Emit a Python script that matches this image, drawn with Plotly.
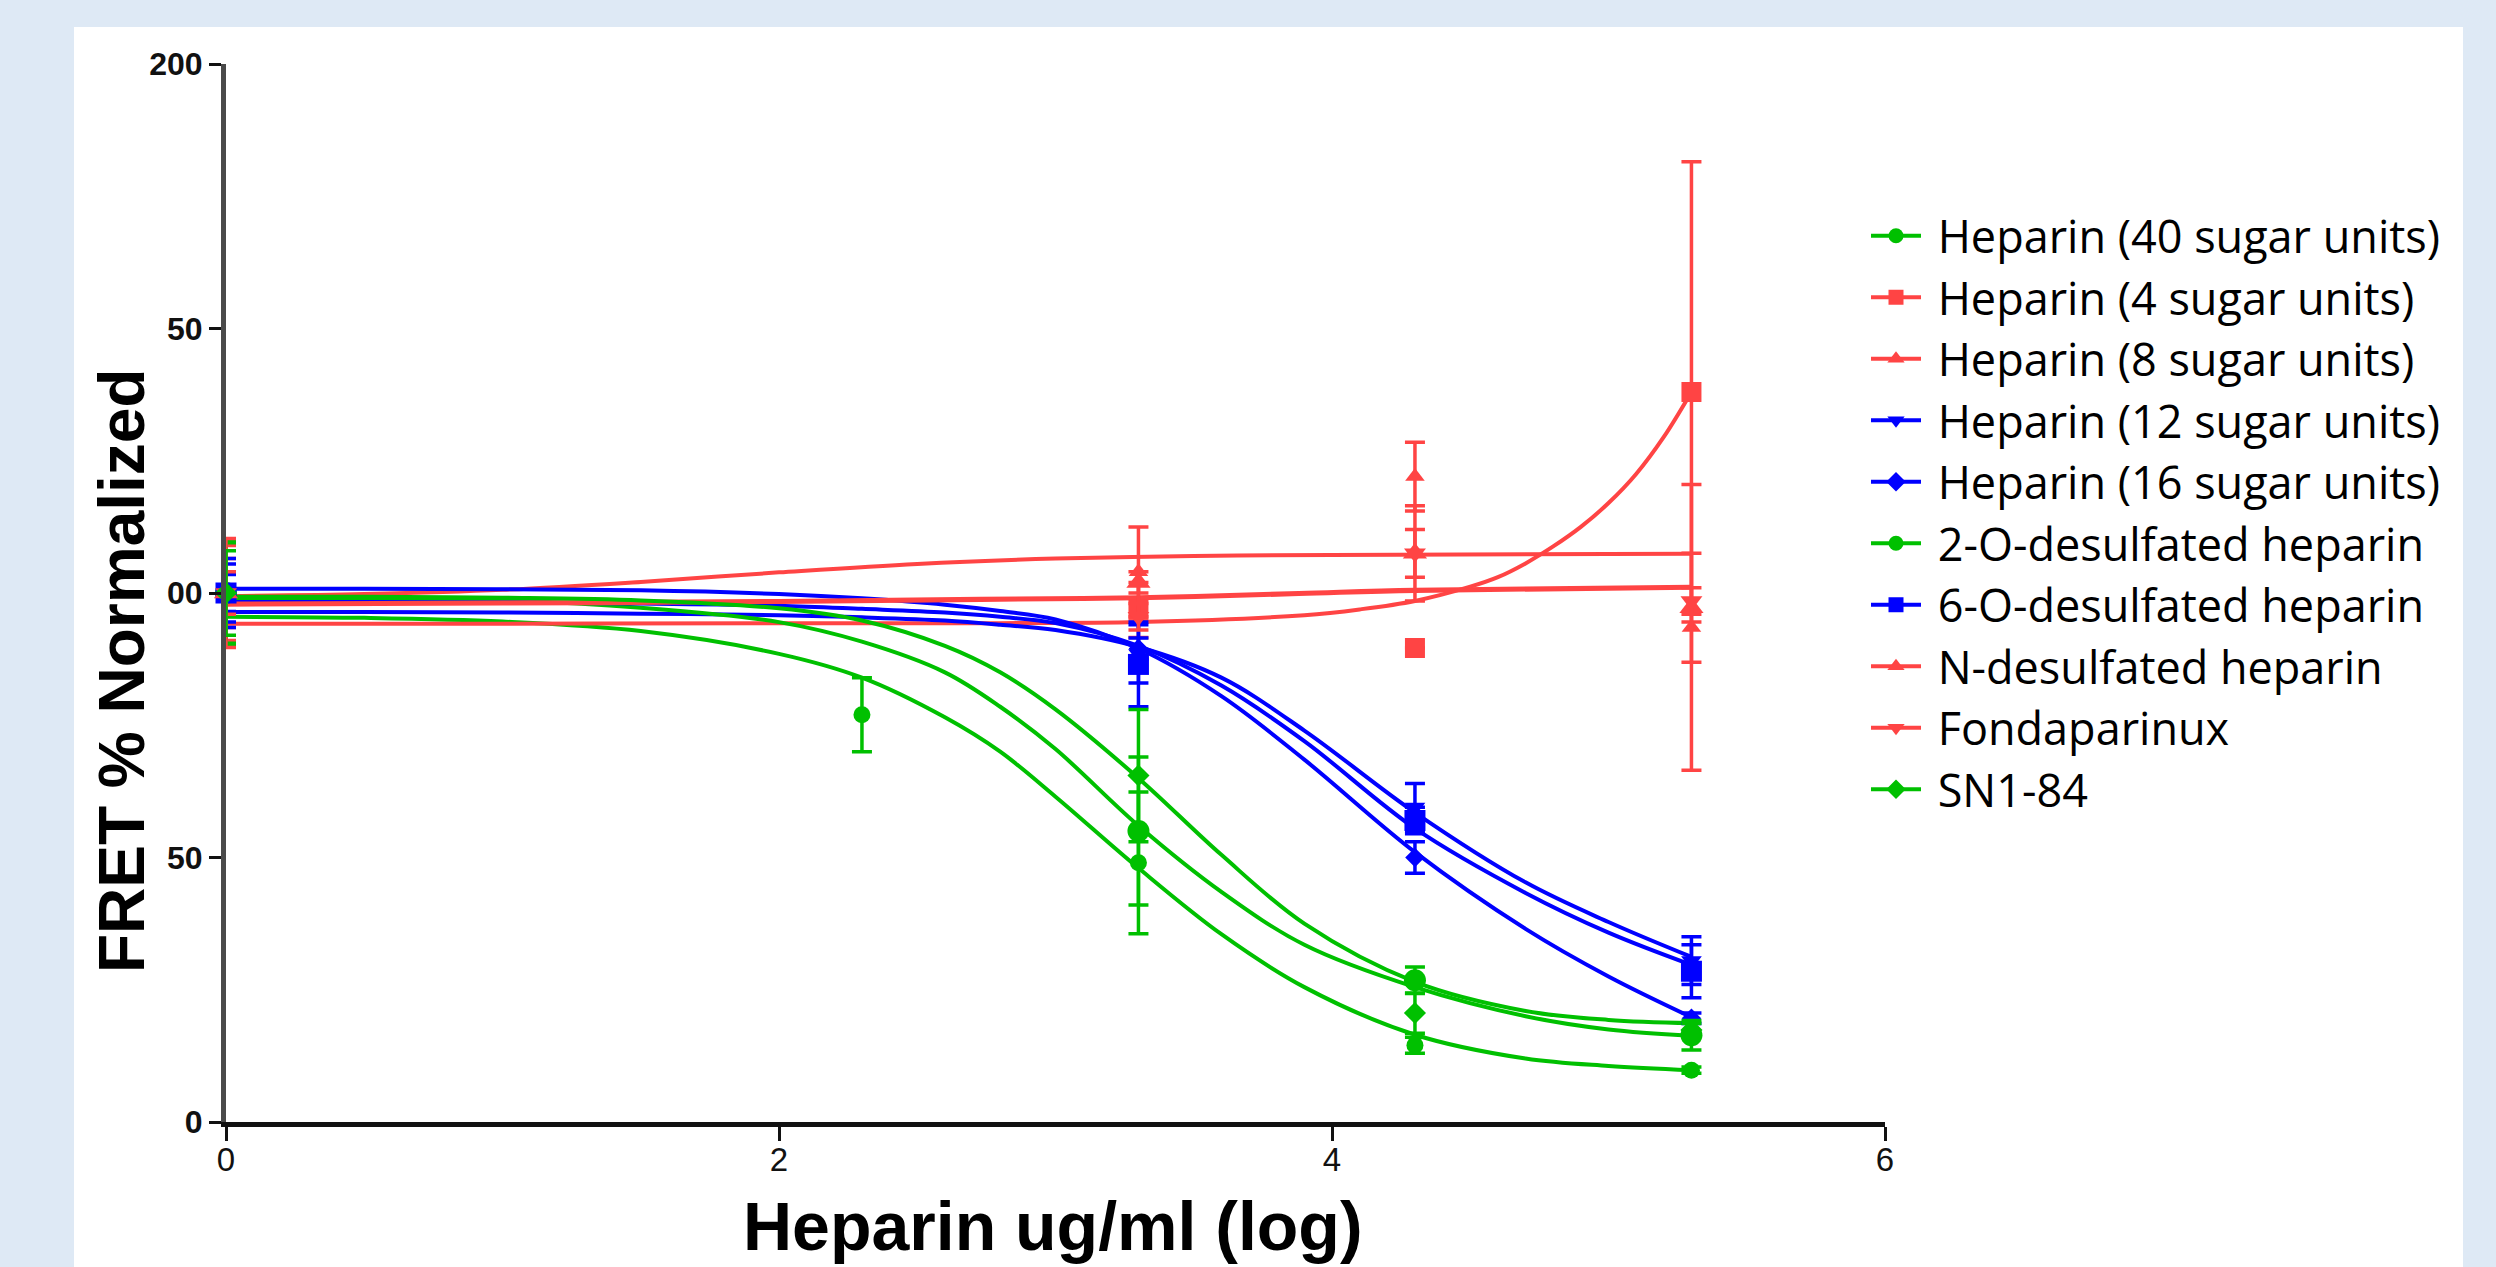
import plotly.graph_objects as go

# ---------------- data ----------------
series_names = [
    "Heparin (40 sugar units)", "Heparin (4 sugar units)", "Heparin (8 sugar units)",
    "Heparin (12 sugar units)", "Heparin (16 sugar units)", "2-O-desulfated heparin",
    "6-O-desulfated heparin", "N-desulfated heparin", "Fondaparinux", "SN1-84",
]
series_colors = ["#00C000", "#FF4444", "#FF4444", "#0000FF", "#0000FF",
                 "#00C000", "#0000FF", "#FF4444", "#FF4444", "#00C000"]
series_symbols = ["circle", "square", "triangle-up", "triangle-down", "diamond",
                  "circle", "square", "triangle-up", "triangle-down", "diamond"]
series_sizes = [17, 20, 17, 18, 15, 22, 21, 21, 19, 17]

# measured points (x = log concentration)
pts_x = [
    [0, 2.3, 3.3, 4.3, 5.3],   # Heparin 40
    [0, 3.3, 4.3, 5.3],        # Heparin 4
    [0, 3.3, 4.3, 5.3],        # Heparin 8
    [0, 3.3, 4.3, 5.3],        # Heparin 12
    [0, 3.3, 4.3, 5.3],        # Heparin 16
    [0, 3.3, 4.3, 5.3],        # 2-O
    [0, 3.3, 4.3, 5.3],        # 6-O
    [0, 3.3, 4.3, 5.3],        # N-desulfated
    [0, 3.3, 4.3, 5.3],        # Fondaparinux
    [0, 3.3, 4.3, 5.3],        # SN1-84
]
pts_y = [
    [100, 77, 49, 14.5, 9.8],
    [100, 96.8, 89.6, 138],
    [100, 104, 122, 93.5],
    [100, 88.5, 59.5, 30.5],
    [100, 89.5, 50, 19.6],
    [100, 55, 26.8, 16.4],
    [100, 86.5, 57, 28.5],
    [100, 102, 107.5, 97.2],
    [100, 95.5, 107.5, 98.5],
    [100, 65.5, 20.6, 17.4],
]
pts_err = [
    [10, 7, 13.4, 1.5, 0.6],
    [9, 5.2, 0, 43.5],
    [6.5, 8.5, 6.5, 27],
    [6.5, 5.5, 4.5, 4.5],
    [3.5, 2, 3, 1],
    [9.5, 14, 2.5, 2.8],
    [5.5, 8, 2.5, 5],
    [10.3, 2, 4.5, 10.3],
    [4, 2.5, 9, 2.5],
    [8, 12.5, 3.8, 1.2],
]

# fitted curves at these x positions
fit_x = [0, 0.5, 1, 1.5, 2, 2.3, 2.6, 2.8, 3, 3.3, 3.6, 3.9, 4.3, 4.7, 5, 5.3]
fit_hep40 = [95.5, 95.3, 94.6, 92.8, 88.5, 84, 76.5, 70, 61.5, 48, 35.5, 25.5, 16.5, 12, 10.6, 9.8]
fit_2O = [99, 98.9, 98.6, 97.2, 94.5, 90.8, 85, 78.5, 70.5, 56, 43.5, 33.5, 25.5, 20, 17.5, 16.3]
fit_sn1 = [99.3, 99.3, 99.1, 98.6, 97.1, 94.8, 90, 85, 78, 65, 50.5, 37.5, 26.5, 21, 19.3, 18.7]
fit_hep16 = [100.8, 100.8, 100.7, 100.5, 99.8, 99, 97.8, 96.6, 95, 89.5, 80.5, 68.5, 51, 36.5, 27.5, 19.8]
fit_6O = [98.3, 98.3, 98.2, 98, 97.6, 97, 96.3, 95.5, 94.3, 90, 82.5, 72, 55.5, 43.3, 35.8, 29.7]
fit_hep12 = [96.4, 96.4, 96.3, 96.1, 95.8, 95.4, 94.8, 94, 93, 89.8, 84, 74, 58.5, 45.3, 37.8, 31.2]

fit_hep4_x = [0, 1, 2, 2.8, 3.3, 3.9, 4.1, 4.3, 4.5, 4.6, 4.7, 4.8, 4.9, 5.0, 5.1, 5.2, 5.3]
fit_hep4 = [94.2, 94.2, 94.3, 94.3, 94.5, 95.8, 96.9, 98.5, 101.2, 103, 105.6, 108.8, 112.5, 117, 122.5, 129.5, 138]
fit_hep8_x = [0, 0.5, 1.0, 1.5, 2.0, 2.5, 3.0, 3.5, 4.0, 5.3]
fit_hep8 = [99.4, 99.8, 100.6, 102.1, 103.9, 105.5, 106.5, 107.0, 107.2, 107.4]
fit_flat_x = [0, 1, 2, 2.73, 3.3, 3.88, 4.3, 5.3]
fit_fonda = [97.8, 98.0, 98.3, 98.7, 99.0, 99.8, 100.4, 101.0]
fit_ndes = [98.0, 98.2, 98.5, 98.9, 99.2, 100.0, 100.6, 101.2]

fit_curves_x = [fit_x, fit_hep4_x, fit_hep8_x, fit_x, fit_x, fit_x, fit_x, fit_flat_x, fit_flat_x, fit_x]
fit_curves_y = [fit_hep40, fit_hep4, fit_hep8, fit_hep12, fit_hep16, fit_2O, fit_6O, fit_ndes, fit_fonda, fit_sn1]

x_ticks = [0, 2, 4, 6]
y_tickvals = [0, 50, 100, 150, 200]
y_ticktext = ["0", "50", "00", "50", "200"]

# ---------------- figure ----------------
fig = go.Figure()

# curves
for i in range(len(series_names)):
    fig.add_trace(go.Scatter(
        x=fit_curves_x[i], y=fit_curves_y[i], mode="lines",
        line=dict(color=series_colors[i], width=4, shape="spline", smoothing=1.0),
        showlegend=False, hoverinfo="skip", cliponaxis=False,
    ))

# points with error bars
for i in range(len(series_names)):
    fig.add_trace(go.Scatter(
        x=pts_x[i], y=pts_y[i], mode="markers",
        marker=dict(color=series_colors[i], symbol=series_symbols[i], size=series_sizes[i],
                    line=dict(width=0)),
        error_y=dict(type="data", array=pts_err[i], visible=True,
                     color=series_colors[i], thickness=3.5, width=10),
        showlegend=False, cliponaxis=False,
    ))

# legend entries (line + marker)
for i in range(len(series_names)):
    fig.add_trace(go.Scatter(
        x=[None], y=[None], mode="lines+markers", name="\u00a0" + series_names[i],
        line=dict(color=series_colors[i], width=4),
        marker=dict(color=series_colors[i], symbol=series_symbols[i], size=15),
        legendrank=i + 1,
    ))

W, H = 2496, 1267
L, R, T, B = 226, 611, 64, 145
PW, PH = W - L - R, H - T - B

def px_to_paper_x(px):
    return (px - L) / PW

def px_to_paper_y(py):
    return (H - B - py) / PH

fig.update_layout(
    width=W, height=H,
    margin=dict(l=L, r=R, t=T, b=B, autoexpand=False),
    paper_bgcolor="#DEE9F5",
    plot_bgcolor="rgba(0,0,0,0)",
    font=dict(family="Liberation Sans, Arial, sans-serif", color="#111111"),
    showlegend=True,
    legend=dict(
        x=px_to_paper_x(1866), y=px_to_paper_y(200), xanchor="left", yanchor="top",
        font=dict(family="Open Sans, sans-serif", size=45, color="#000000"),
        bgcolor="rgba(0,0,0,0)", borderwidth=0, itemwidth=50,
        traceorder="normal",
    ),
    shapes=[dict(
        type="rect", xref="paper", yref="paper", layer="below",
        x0=px_to_paper_x(74), x1=px_to_paper_x(2463),
        y0=px_to_paper_y(1300), y1=px_to_paper_y(27),
        fillcolor="#FFFFFF", line=dict(width=0),
    )],
    annotations=[
        dict(text="<b>FRET % Normalized</b>", xref="paper", yref="paper",
             x=px_to_paper_x(122), y=px_to_paper_y(671), textangle=-90,
             showarrow=False, xanchor="center", yanchor="middle",
             font=dict(family="Liberation Sans, Arial, sans-serif", size=64, color="#000000")),
        dict(text="<b>Heparin ug/ml (log)</b>", xref="paper", yref="paper",
             x=px_to_paper_x(1053), y=px_to_paper_y(1226),
             showarrow=False, xanchor="center", yanchor="middle",
             font=dict(family="Liberation Sans, Arial, sans-serif", size=68, color="#000000")),
    ],
)

fig.update_xaxes(
    range=[0, 6], tickvals=x_ticks, ticktext=[str(v) for v in x_ticks],
    showline=True, linecolor="#111111", linewidth=5,
    ticks="outside", ticklen=14, tickwidth=3, tickcolor="#111111",
    tickfont=dict(size=33, color="#111111"), ticklabelstandoff=-10,
    showgrid=False, zeroline=False,
)
fig.update_yaxes(
    range=[0, 200], tickvals=y_tickvals, ticktext=y_ticktext,
    showline=True, linecolor="#4A4A4A", linewidth=5,
    ticks="outside", ticklen=12, tickwidth=3, tickcolor="#111111",
    tickfont=dict(size=32, color="#111111", weight="bold"),
    showgrid=False, zeroline=False,
)

fig.write_html(
    "out.html",
    config={"displayModeBar": False},
    post_script="document.body.style.margin='0px';document.body.style.padding='0px';",
)
